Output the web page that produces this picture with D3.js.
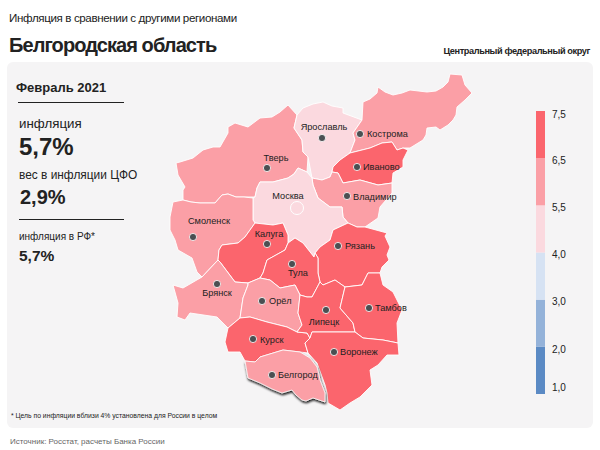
<!DOCTYPE html>
<html><head><meta charset="utf-8">
<script src="https://cdnjs.cloudflare.com/ajax/libs/d3/7.8.5/d3.min.js"></script>
<style>html,body{margin:0;padding:0;background:#fff}svg{display:block}text{font-family:"Liberation Sans",Arial,sans-serif;fill:#222}</style>
</head><body><svg id="c" width="600" height="450"></svg>
<script>
const regionNames=["Тверь","Ярославль","Кострома","Иваново","Владимир","Москва","Рязань","Смоленск","Калуга","Тула","Брянск","Орёл","Курск","Липецк","Тамбов","Воронеж","Белгород"];
const regionValues=[5.8,5.0,5.9,6.8,5.9,5.1,6.8,5.9,6.8,6.8,5.8,5.9,6.8,6.8,6.8,6.8,5.7];
const legendBreaks=[1,2,3,4,5.5,6.5,7.5];
const legendLabels=["1,0","2,0","3,0","4,0","5,5","6,5","7,5"];
const legendColors=["#5b8ac4","#94b2d9","#d6e2f3","#fbd9df","#fb9fa6","#fb656d"];
const regionRings={
"Тверь":[[176,163],[180,162],[193,158],[203,150],[213,147],[220,147],[228,133],[228,127],[235,123],[248,127],[260,118],[272,117],[280,112],[288,105],[297,115],[294,128],[302,140],[303,152],[308,157],[307,172],[298,168],[294,174],[288,178],[273,182],[260,182],[257,188],[255,197],[244,197],[236,197],[228,194],[222,195],[215,203],[200,203],[191,202],[183,200],[183,190],[185,187],[178,175]],
"Ярославль":[[297,115],[303,108],[313,104],[323,102],[332,106],[343,108],[343,113],[362,120],[353,133],[355,140],[350,153],[340,160],[333,167],[332,172],[330,177],[322,180],[312,178],[308,157],[303,152],[302,140],[294,128]],
"Кострома":[[362,120],[363,102],[370,99],[377,93],[378,87],[385,92],[393,95],[402,93],[410,90],[427,92],[436,91],[443,87],[448,82],[450,74],[462,75],[465,85],[472,93],[465,100],[457,107],[456,115],[453,120],[448,125],[440,130],[436,127],[427,128],[426,135],[423,140],[410,148],[403,148],[397,150],[392,142],[382,143],[370,148],[350,153],[355,140],[353,133]],
"Иваново":[[333,167],[340,160],[350,153],[370,148],[382,143],[392,142],[397,150],[403,148],[408,150],[403,160],[403,167],[393,173],[392,183],[378,185],[360,180],[343,183],[338,173],[332,172]],
"Владимир":[[312,178],[322,180],[330,177],[332,172],[338,173],[343,183],[360,180],[378,185],[392,183],[392,193],[380,207],[378,218],[365,227],[357,227],[348,223],[343,217],[342,207],[330,207],[318,198],[313,185]],
"Москва":[[260,182],[273,182],[288,178],[294,174],[298,168],[307,172],[312,178],[313,185],[318,198],[330,207],[342,207],[343,217],[348,223],[333,230],[330,240],[320,247],[315,253],[314,257],[303,243],[295,238],[288,243],[288,235],[283,223],[273,225],[255,223],[253,220],[253,198],[255,197],[257,188]],
"Рязань":[[315,253],[320,247],[330,240],[333,230],[348,223],[357,227],[365,227],[387,233],[385,236],[390,247],[387,255],[389,260],[382,267],[380,273],[368,273],[362,285],[345,287],[335,280],[323,285],[320,282],[318,273],[318,258]],
"Смоленск":[[170,217],[173,202],[183,200],[191,202],[200,203],[215,203],[222,195],[228,194],[236,197],[244,197],[253,198],[253,220],[255,223],[245,237],[238,243],[222,245],[219,250],[218,260],[202,277],[197,272],[192,258],[178,250],[175,240],[170,230]],
"Калуга":[[245,237],[255,223],[273,225],[283,223],[288,235],[288,243],[285,250],[267,260],[263,273],[260,278],[248,283],[235,282],[220,262],[218,260],[219,250],[222,245],[238,243]],
"Тула":[[288,243],[295,238],[303,243],[314,257],[315,253],[318,258],[318,273],[320,282],[312,297],[307,297],[300,295],[295,285],[280,288],[270,280],[260,278],[263,273],[267,260],[285,250]],
"Брянск":[[173,285],[183,288],[202,277],[218,260],[220,262],[235,282],[248,283],[248,285],[243,298],[240,318],[228,328],[217,317],[190,313],[185,320],[177,317],[178,303]],
"Орёл":[[248,285],[248,283],[260,278],[270,280],[280,288],[295,285],[300,295],[298,313],[302,325],[297,332],[287,327],[267,322],[250,317],[240,318],[243,298]],
"Курск":[[228,328],[240,318],[250,317],[267,322],[287,327],[297,332],[307,333],[310,338],[305,343],[308,353],[300,352],[283,350],[260,357],[255,362],[245,361],[240,352],[228,352],[225,342]],
"Липецк":[[300,295],[307,297],[312,297],[320,282],[323,285],[335,280],[345,287],[340,308],[353,323],[355,332],[327,332],[312,332],[310,338],[307,333],[297,332],[302,325],[298,313]],
"Тамбов":[[345,287],[362,285],[368,273],[380,273],[383,285],[393,292],[398,302],[402,310],[397,323],[398,343],[383,340],[363,338],[355,332],[353,323],[340,308]],
"Воронеж":[[310,338],[312,332],[327,332],[355,332],[363,338],[383,340],[398,343],[399,355],[387,355],[378,365],[370,370],[372,385],[360,397],[350,403],[340,410],[328,403],[327,393],[325,385],[317,363],[308,353],[305,343]],
"Белгород":[[245,361],[255,362],[260,357],[283,350],[300,352],[310,358],[317,367],[319,375],[320,380],[325,393],[325,402],[313,398],[306,401],[302,400],[296,395],[292,390],[282,393],[272,389],[260,383],[248,378]]
};
const cityPoints=[["Тверь",267,168,"middle",276,158],["Ярославль",322,138,"middle",324,127],["Кострома",360,134,"start",367,134],["Иваново",357,167,"start",363,167],["Владимир",347,196,"start",353,197],["Смоленск",193,237,"middle",209,221],["Калуга",267,244,"middle",269,234],["Тула",292,264,"middle",298,273],["Рязань",338,246,"start",345,246],["Брянск",217,284,"middle",217,293],["Орёл",262,301,"start",269,301],["Липецк",326,310,"middle",324,322],["Тамбов",369,308,"start",375,308],["Курск",253,339,"start",260,340],["Воронеж",334,352,"start",340,352],["Белгород",272,375,"start",278,375]];

const svg=d3.select("#c");
const defs=svg.append("defs");
const f=defs.append("filter").attr("id","sh").attr("x","-20%").attr("y","-20%").attr("width","140%").attr("height","150%");
f.append("feDropShadow").attr("dx",0.6).attr("dy",1.8).attr("stdDeviation",1.3).attr("flood-color","#111").attr("flood-opacity",1);

svg.append("text").attr("x",9).attr("y",22).attr("font-size",11.6).attr("letter-spacing",-0.38).text("Инфляция в сравнении с другими регионами");
svg.append("text").attr("x",9).attr("y",52).attr("font-size",20).attr("font-weight",700).attr("letter-spacing",-0.92).text("Белгородская область");
svg.append("text").attr("x",590).attr("y",54).attr("text-anchor","end").attr("font-size",9.2).attr("font-weight",700).attr("letter-spacing",-0.4).text("Центральный федеральный округ");
svg.append("rect").attr("x",7).attr("y",62).attr("width",586).attr("height",366).attr("rx",6).attr("fill","#f5f4f5");

const T=(x,y,s,w,t)=>svg.append("text").attr("x",x).attr("y",y).attr("font-size",s).attr("font-weight",w).text(t);
T(16,92,13,700,"Февраль 2021");
svg.append("line").attr("x1",18).attr("x2",124).attr("y1",102.5).attr("y2",102.5).attr("stroke","#222");
T(19,128,13.3,400,"инфляция");
T(19,155,24,700,"5,7%");
T(19,179,11.9,400,"вес в инфляции ЦФО");
T(20,204,20,700,"2,9%");
svg.append("line").attr("x1",19).attr("x2",124).attr("y1",219.5).attr("y2",219.5).attr("stroke","#222");
T(19,240,10,400,"инфляция в РФ*");
T(19,261,15.5,700,"5,7%");
T(11,418,6.8,400,"* Цель по инфляции вблизи 4% установлена для России в целом");
T(10,444,8,400,"Источник: Росстат, расчеты Банка России").style("fill","#666");

const color=d3.scaleThreshold().domain(legendBreaks.slice(1,-1)).range(legendColors);
const features=regionNames.map((n,i)=>({type:"Feature",properties:{name:n,value:regionValues[i]},geometry:{type:"Polygon",coordinates:[[...regionRings[n],regionRings[n][0]]]}}));
const proj=d3.geoIdentity();
const path=d3.geoPath(proj);
const g=svg.append("g");
g.selectAll("path.r").data(features.filter(d=>d.properties.name!=="Белгород")).join("path").attr("class","r")
 .attr("d",path).attr("fill",d=>color(d.properties.value)).attr("stroke","#fff").attr("stroke-width",0.9).attr("stroke-linejoin","round");
g.selectAll("path.b").data(features.filter(d=>d.properties.name==="Белгород")).join("path").attr("class","b")
 .attr("d",path).attr("fill",d=>color(d.properties.value)).attr("stroke","#fff").attr("stroke-width",0.8).attr("stroke-linejoin","round").attr("filter","url(#sh)");

svg.append("circle").attr("cx",297).attr("cy",208).attr("r",6.5).attr("fill","none").attr("stroke","#fff").attr("stroke-width",1);
svg.append("text").attr("x",288).attr("y",199).attr("text-anchor","middle").attr("font-size",9.2).text("Москва");
const c=svg.append("g").selectAll("g").data(cityPoints).join("g");
c.append("circle").attr("cx",d=>d[1]).attr("cy",d=>d[2]).attr("r",3.6).attr("fill","#4b4f52").attr("stroke","#fff").attr("stroke-opacity",0.8).attr("stroke-width",1);
c.append("text").attr("x",d=>d[4]).attr("y",d=>d[5]+3.3).attr("text-anchor",d=>d[3]).attr("font-size",9.2).text(d=>d[0]);

const ly=d3.scalePoint().domain(legendLabels).range([394,111]);
const lg=svg.append("g");
lg.selectAll("rect").data(legendColors).join("rect").attr("x",536).attr("width",9)
 .attr("y",(d,i)=>ly(legendLabels[i+1])).attr("height",(d,i)=>ly(legendLabels[i])-ly(legendLabels[i+1])).attr("fill",d=>d);
const labelAxis=d3.axisRight(ly).tickSize(0).tickPadding(0);
const ax=lg.append("g").attr("transform","translate(552,2)").call(labelAxis);
ax.select(".domain").remove();
ax.selectAll("text").attr("font-size",10).attr("font-family",'"Liberation Sans",Arial,sans-serif').attr("dy",d=>d==="1,0"?"-0.1em":d==="7,5"?"0.42em":"0.32em");
ax.selectAll(".tick").filter(d=>d==="1,0").attr("transform",`translate(0,${ly("1,0")-4})`);
</script></body></html>
